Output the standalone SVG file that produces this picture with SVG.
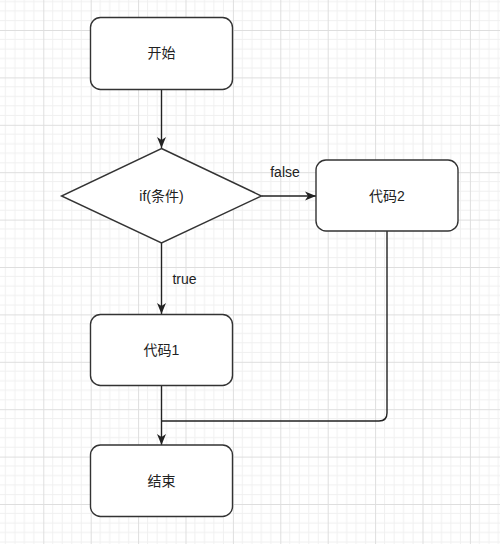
<svg xmlns="http://www.w3.org/2000/svg" width="500" height="544" viewBox="0 0 500 544">
<style>
.node{fill:#fff;stroke:#333;stroke-width:1.4}
.lbl{font-family:"Liberation Sans","Noto Sans CJK SC",sans-serif;font-size:14px;fill:#222;text-anchor:middle;dominant-baseline:central}
.edge{fill:none;stroke:#222;stroke-width:1.4}
</style>
<defs>
<pattern id="grid" patternUnits="userSpaceOnUse" x="43.3" y="30" width="47.4" height="47.4">
<path d="M9.48 0V47.4M18.96 0V47.4M28.44 0V47.4M37.92 0V47.4M0 9.48H47.4M0 18.96H47.4M0 28.44H47.4M0 37.92H47.4" stroke="#f0f0f0" stroke-width="1" fill="none"/>
<path d="M0.5 0V47.4M0 0.5H47.4" stroke="#dedede" stroke-width="1" fill="none"/>
</pattern>
<marker id="arr" viewBox="0 0 12 10" refX="11" refY="5" markerWidth="12" markerHeight="10" markerUnits="userSpaceOnUse" orient="auto">
<path d="M0 0.5L11 5L0 9.5L3 5Z" fill="#222"/>
</marker>
</defs>
<rect width="500" height="544" fill="#fff"/>
<rect width="500" height="544" fill="url(#grid)"/>
<g id="connectors">
<path class="edge" d="M161.5 89V148" marker-end="url(#arr)"/>
<path class="edge" d="M261.5 196H316" marker-end="url(#arr)"/>
<path class="edge" d="M161.5 243V314" marker-end="url(#arr)"/>
<path class="edge" d="M161.5 386V445" marker-end="url(#arr)"/>
<path class="edge" d="M387 231V413Q387 421 379 421H161.5"/>
<text class="lbl" x="285" y="172">false</text>
<text class="lbl" x="184.5" y="279">true</text>
</g>
<g id="start">
<rect class="node" x="90.5" y="17.5" width="142" height="72" rx="10"/>
<text class="lbl" x="161.5" y="53">开始</text>
</g>
<g id="cond">
<path class="node" d="M161.5 148.5L261.5 196L161.5 243L61.5 196Z"/>
<text class="lbl" x="161.5" y="196">if(条件)</text>
</g>
<g id="code2">
<rect class="node" x="316" y="160" width="142" height="71" rx="10"/>
<text class="lbl" x="387" y="195.5">代码2</text>
</g>
<g id="code1">
<rect class="node" x="90.5" y="314.5" width="142" height="71" rx="10"/>
<text class="lbl" x="161.5" y="350">代码1</text>
</g>
<g id="end">
<rect class="node" x="90.5" y="445" width="142" height="71.5" rx="10"/>
<text class="lbl" x="161.5" y="480.5">结束</text>
</g>
</svg>
